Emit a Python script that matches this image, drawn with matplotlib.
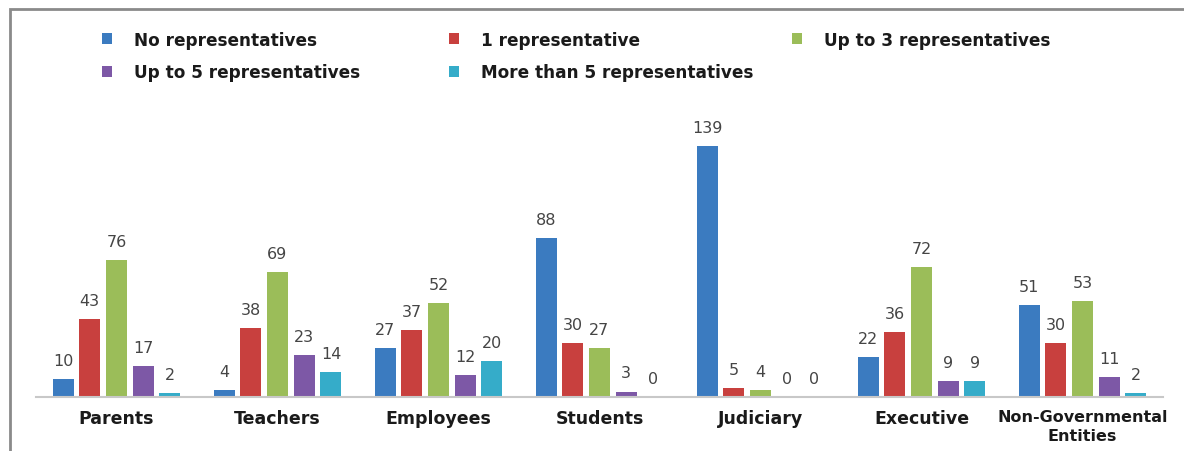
import numpy as np
import matplotlib
matplotlib.use("Agg")
import matplotlib.pyplot as plt
from matplotlib.patches import Rectangle

# -------------------------
# Data
# -------------------------
categories = ["Parents", "Teachers", "Employees", "Students", "Judiciary",
              "Executive", "Non-Governmental\nEntities"]
series_names = ["No representatives", "1 representative", "Up to 3 representatives",
                "Up to 5 representatives", "More than 5 representatives"]
no_reps = [10, 4, 27, 88, 139, 22, 51]
one_rep = [43, 38, 37, 30, 5, 36, 30]
up_to_3 = [76, 69, 52, 27, 4, 72, 53]
up_to_5 = [17, 23, 12, 3, 0, 9, 11]
more_than_5 = [2, 14, 20, 0, 0, 9, 2]

colors = ["#3b7bc0", "#c8403e", "#9bbd59", "#7d58a6", "#35acc9"]

W, H = 1184, 452
fig = plt.figure(figsize=(W / 100, H / 100), dpi=100)
fig.patch.set_facecolor("white")

# frame of the cropped figure box
fig.add_artist(Rectangle((10 / W, -0.05), 1.2, (H - 10) / H + 0.05,
                         transform=fig.transFigure, fill=False,
                         edgecolor="#8a8a8a", linewidth=2))

ax = fig.add_axes([36 / W, 54 / H, (1163 - 36) / W, 298 / H])

x = np.arange(len(categories))
width = 0.13
step = 0.166
series = [no_reps, one_rep, up_to_3, up_to_5, more_than_5]
handles = []
for i, (vals, name, col) in enumerate(zip(series, series_names, colors)):
    bars = ax.bar(x + (i - 2) * step, vals, width, color=col, label=name)
    handles.append(bars)
    ax.bar_label(bars, labels=[str(v) for v in vals], padding=8,
                 fontsize=11.5, color="#454545")

ax.set_xlim(-0.5, 6.5)
ax.set_ylim(0, 165)
ax.set_yticks([])
for s in ["top", "right", "left"]:
    ax.spines[s].set_visible(False)
ax.spines["bottom"].set_color("#c8c8c8")
ax.spines["bottom"].set_linewidth(1.5)
ax.tick_params(axis="x", length=0, pad=9)
ax.set_xticks(x)
ax.set_xticklabels(categories, fontsize=12.5, fontweight="bold", color="#1a1a1a",
                   linespacing=1.3, va="top")
ax.get_xticklabels()[-1].set_fontsize(11.5)

# legend in three columns, placed like the original
leg_kw = dict(frameon=False, handlelength=0.6, handleheight=0.6,
              handletextpad=1.3, labelspacing=0.85, borderaxespad=0,
              prop={"weight": "bold", "size": 12.2})
cols = [([0, 3], 95), ([1, 4], 442), ([2], 785)]
for idx, xpx in cols:
    lg = fig.legend([handles[i] for i in idx], [series_names[i] for i in idx],
                    loc="upper left", bbox_to_anchor=(xpx / W, 1 - 25 / H), **leg_kw)
    for t in lg.get_texts():
        t.set_color("#1a1a1a")

fig.savefig("out.png", dpi=100)
